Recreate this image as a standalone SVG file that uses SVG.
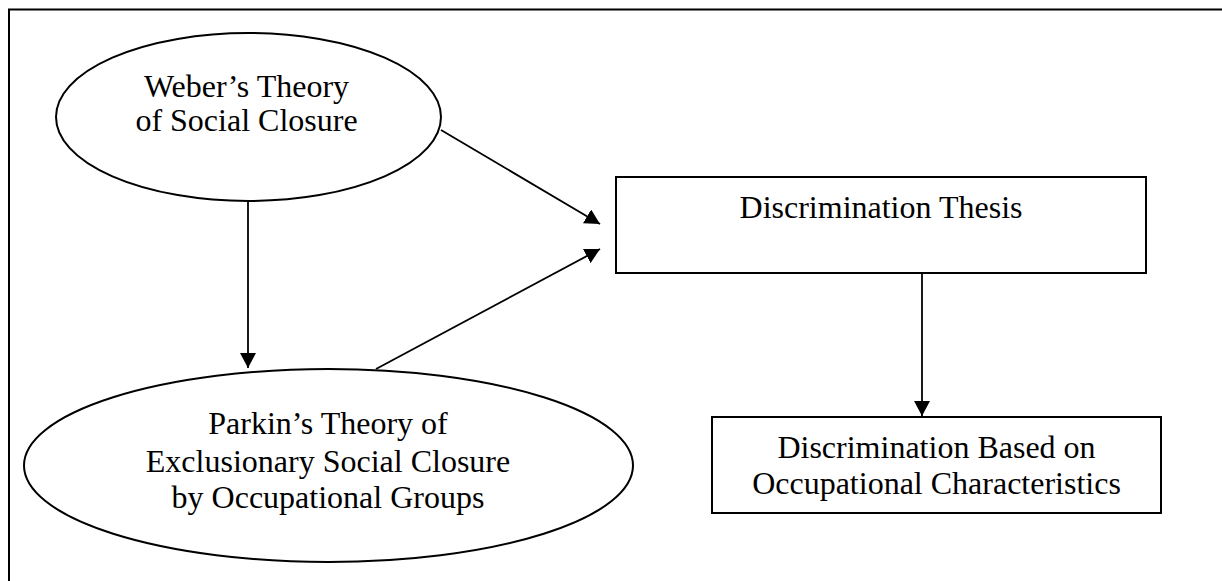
<svg xmlns="http://www.w3.org/2000/svg" width="1222" height="581" viewBox="0 0 1222 581">
  <style>
    .shape { fill: #ffffff; stroke: #000000; stroke-width: 2; }
    .lbl { font-family: "Liberation Serif", "Times New Roman", serif; font-size: 32px; fill: #000000; text-anchor: middle; }
    .conn { stroke: #000000; stroke-width: 1.8; fill: none; }
    .frame { stroke: #000000; stroke-width: 2; fill: none; }
  </style>
  <defs>
    <marker id="arrow" markerUnits="userSpaceOnUse" markerWidth="16" markerHeight="16" refX="15" refY="8" orient="auto">
      <path d="M0,0 L15,8 L0,16 Z" fill="#000000"/>
    </marker>
  </defs>
  <rect width="1222" height="581" fill="#ffffff"/>
  <path class="frame" d="M9,581 V9.5 H1222"/>

  <g id="weber">
    <ellipse class="shape" cx="248.5" cy="117" rx="192.5" ry="84"/>
    <text class="lbl" x="246.5" y="97">Weber’s Theory</text>
    <text class="lbl" x="246.5" y="131">of Social Closure</text>
  </g>

  <g id="parkin">
    <ellipse class="shape" cx="328.5" cy="465.5" rx="304.5" ry="96.5"/>
    <text class="lbl" x="328" y="434">Parkin’s Theory of</text>
    <text class="lbl" x="328" y="472">Exclusionary Social Closure</text>
    <text class="lbl" x="328" y="508">by Occupational Groups</text>
  </g>

  <g id="thesis">
    <rect class="shape" x="616" y="177" width="530" height="96"/>
    <text class="lbl" x="881" y="218">Discrimination Thesis</text>
  </g>

  <g id="occupational">
    <rect class="shape" x="712" y="417" width="449" height="96"/>
    <text class="lbl" x="936.5" y="458">Discrimination Based on</text>
    <text class="lbl" x="936.5" y="494">Occupational Characteristics</text>
  </g>

  <g id="connectors">
    <line class="conn" x1="441" y1="130" x2="600" y2="224" marker-end="url(#arrow)"/>
    <line class="conn" x1="376" y1="369" x2="600" y2="249" marker-end="url(#arrow)"/>
    <line class="conn" x1="248" y1="201" x2="248" y2="368" marker-end="url(#arrow)"/>
    <line class="conn" x1="922" y1="273" x2="922" y2="416" marker-end="url(#arrow)"/>
  </g>
</svg>
